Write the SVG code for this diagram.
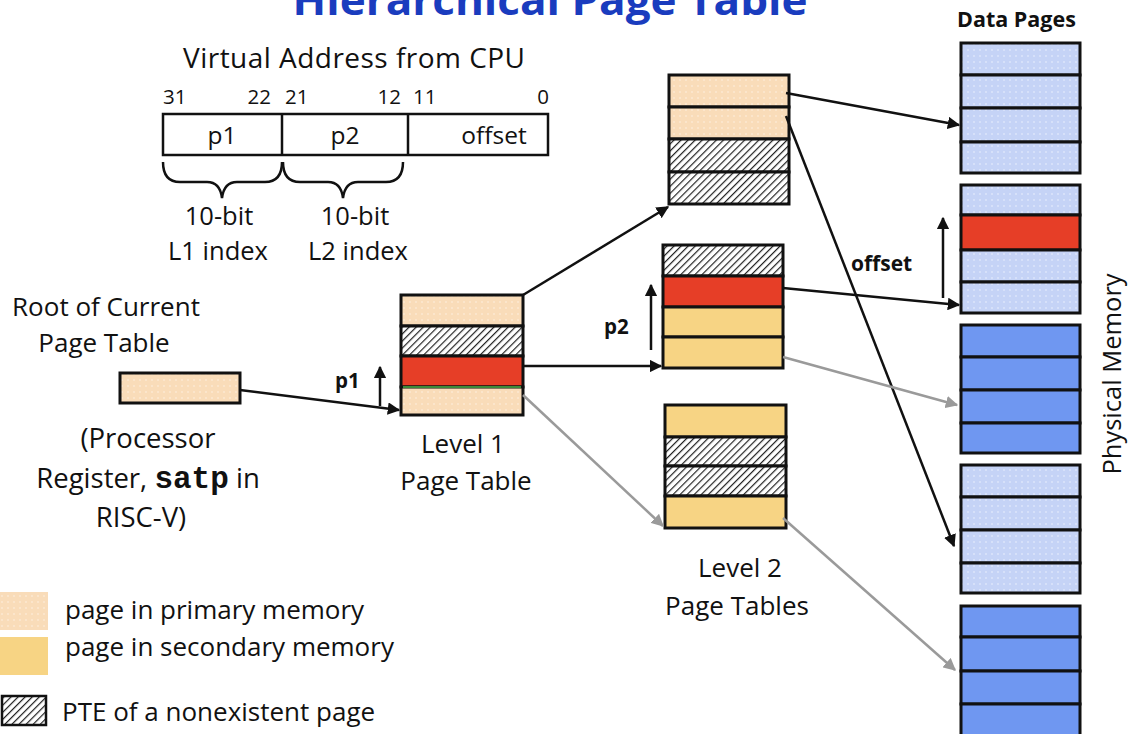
<svg xmlns="http://www.w3.org/2000/svg" width="1128" height="734" viewBox="0 0 1128 734">
<style>
text{font-family:"Open Sans","Liberation Sans",sans-serif;fill:#111}
.t25{font-size:25.5px}
.t26{font-size:26px}
.b{font-weight:bold}
.row{stroke:#111;stroke-width:3}
.arr{stroke:#111;stroke-width:2.5;fill:none;marker-end:url(#ah)}
.garr{stroke:#9a9a9a;stroke-width:2.5;fill:none;marker-end:url(#gh)}
.peach{fill:url(#dotPeach)}
.yel{fill:#F7D484}
.red{fill:#E63E27}
.hat{fill:url(#hatch)}
.lb{fill:url(#dotBlue)}
.db{fill:#6F97F1}
</style>
<defs>
<pattern id="dotPeach" width="6" height="6" patternUnits="userSpaceOnUse"><rect width="6" height="6" fill="#F9DCB9"/><circle cx="2" cy="2" r="0.7" fill="#fff" opacity="0.7"/></pattern>
<pattern id="dotBlue" width="6" height="6" patternUnits="userSpaceOnUse"><rect width="6" height="6" fill="#C5D3F6"/><circle cx="2" cy="2" r="0.7" fill="#fff" opacity="0.8"/></pattern>
<pattern id="hatch" width="5" height="5" patternUnits="userSpaceOnUse" patternTransform="rotate(45)"><rect width="5" height="5" fill="#fff"/><line x1="0" y1="0" x2="0" y2="5" stroke="#222" stroke-width="2.4"/></pattern>
<marker id="ah" viewBox="0 0 10 10" refX="9" refY="5" markerWidth="5" markerHeight="5" orient="auto" markerUnits="strokeWidth"><path d="M0,0 L10,5 L0,10 z" fill="#111"/></marker>
<marker id="gh" viewBox="0 0 10 10" refX="9" refY="5" markerWidth="5" markerHeight="5" orient="auto" markerUnits="strokeWidth"><path d="M0,0 L10,5 L0,10 z" fill="#9a9a9a"/></marker>
</defs>
<rect width="1128" height="734" fill="#fff"/>

<g id="title"><text x="550" y="15" text-anchor="middle" class="b" style="font-size:42px;fill:#1A3CBE" textLength="515" lengthAdjust="spacingAndGlyphs">Hierarchical Page Table</text></g>

<g id="virtual-address">
<text x="354" y="68" text-anchor="middle" style="font-size:28px" textLength="342">Virtual Address from CPU</text>
<text x="163" y="104" style="font-size:20.5px">31</text>
<text x="271" y="104" text-anchor="end" style="font-size:20.5px">22</text>
<text x="285" y="104" style="font-size:20.5px">21</text>
<text x="401" y="104" text-anchor="end" style="font-size:20.5px">12</text>
<text x="413" y="104" style="font-size:20.5px">11</text>
<text x="549" y="104" text-anchor="end" style="font-size:20.5px">0</text>
<rect x="163" y="114" width="385" height="41" fill="#fff" stroke="#111" stroke-width="2.5"/>
<line x1="282" y1="114" x2="282" y2="155" stroke="#111" stroke-width="2.5"/>
<line x1="408" y1="114" x2="408" y2="155" stroke="#111" stroke-width="2.5"/>
<text x="222" y="144" text-anchor="middle" style="font-size:24.5px">p1</text>
<text x="345" y="144" text-anchor="middle" style="font-size:24.5px">p2</text>
<text x="494" y="144" text-anchor="middle" style="font-size:24.5px">offset</text>
<path d="M163,162 Q163,182 180,182 L207,182 Q220,182 222,198 Q224,182 237,182 L265,182 Q282,182 282,162" fill="none" stroke="#111" stroke-width="2.5"/>
<path d="M283,162 Q283,182 300,182 L328,182 Q341,182 343,198 Q345,182 358,182 L386,182 Q403,182 403,162" fill="none" stroke="#111" stroke-width="2.5"/>
<text x="219" y="225" text-anchor="middle" class="t25">10-bit</text>
<text x="218" y="260" text-anchor="middle" class="t25">L1 index</text>
<text x="355" y="225" text-anchor="middle" class="t25">10-bit</text>
<text x="358" y="260" text-anchor="middle" class="t25">L2 index</text>
</g>

<g id="root-register">
<text x="106" y="316" text-anchor="middle" class="t26">Root of Current</text>
<text x="104" y="352" text-anchor="middle" class="t26">Page Table</text>
<rect x="120" y="373" width="120" height="30" class="row peach"/>
<text x="148" y="448" text-anchor="middle" style="font-size:27.5px">(Processor</text>
<text x="148" y="488" text-anchor="middle" style="font-size:27.5px">Register, <tspan style="font-family:'Liberation Mono',monospace;font-weight:bold;font-size:31px">satp</tspan> in</text>
<text x="141" y="527" text-anchor="middle" style="font-size:27.5px">RISC-V)</text>
</g>

<g id="level1">
<rect x="401" y="295" width="122" height="31" class="row peach"/>
<rect x="401" y="326" width="122" height="30" class="row hat"/>
<rect x="401" y="356" width="122" height="31" class="row red"/>
<rect x="401" y="387" width="122" height="28" class="row peach"/>
<line x1="403" y1="387" x2="521" y2="387" stroke="#3C8A3A" stroke-width="2"/>
<text x="463" y="453" text-anchor="middle" class="t26">Level 1</text>
<text x="466" y="490" text-anchor="middle" class="t26">Page Table</text>
<text x="335" y="388" class="b" style="font-size:20.5px">p1</text>
</g>

<g id="level2-a">
<rect x="669" y="75" width="120" height="32" class="row peach"/>
<rect x="669" y="107" width="120" height="32" class="row peach"/>
<rect x="669" y="139" width="120" height="33" class="row hat"/>
<rect x="669" y="172" width="120" height="32" class="row hat"/>
</g>
<g id="level2-b">
<rect x="663" y="245" width="120" height="31" class="row hat"/>
<rect x="663" y="276" width="120" height="31" class="row red"/>
<rect x="663" y="307" width="120" height="30" class="row yel"/>
<rect x="663" y="337" width="120" height="31" class="row yel"/>
<text x="604" y="334" class="b" style="font-size:20.5px">p2</text>
</g>
<g id="level2-c">
<rect x="665" y="405" width="121" height="32" class="row yel"/>
<rect x="665" y="437" width="121" height="29" class="row hat"/>
<rect x="665" y="466" width="121" height="30" class="row hat"/>
<rect x="665" y="496" width="121" height="32" class="row yel"/>
<text x="740" y="577" text-anchor="middle" class="t26">Level 2</text>
<text x="737" y="615" text-anchor="middle" class="t26">Page Tables</text>
</g>

<g id="data-pages">
<text x="957" y="27" class="b" style="font-size:21.5px">Data Pages</text>
</g>
<g id="page1">
<rect x="961" y="43" width="119" height="32" class="row lb"/>
<rect x="961" y="75" width="119" height="33" class="row lb"/>
<rect x="961" y="108" width="119" height="34" class="row lb"/>
<rect x="961" y="142" width="119" height="31" class="row lb"/>
</g>
<g id="page2">
<rect x="961" y="185" width="119" height="30" class="row lb"/>
<rect x="961" y="215" width="119" height="35" class="row red"/>
<rect x="961" y="250" width="119" height="32" class="row lb"/>
<rect x="961" y="282" width="119" height="31" class="row lb"/>
<text x="851" y="271" class="b" style="font-size:21px">offset</text>
</g>
<g id="page3">
<rect x="961" y="325" width="119" height="32" class="row db"/>
<rect x="961" y="357" width="119" height="33" class="row db"/>
<rect x="961" y="390" width="119" height="33" class="row db"/>
<rect x="961" y="423" width="119" height="30" class="row db"/>
</g>
<g id="page4">
<rect x="961" y="465" width="119" height="32" class="row lb"/>
<rect x="961" y="497" width="119" height="33" class="row lb"/>
<rect x="961" y="530" width="119" height="33" class="row lb"/>
<rect x="961" y="563" width="119" height="30" class="row lb"/>
</g>
<g id="page5">
<rect x="961" y="606" width="119" height="31" class="row db"/>
<rect x="961" y="637" width="119" height="34" class="row db"/>
<rect x="961" y="671" width="119" height="33" class="row db"/>
<rect x="961" y="704" width="119" height="32" class="row db"/>
</g>
<g id="physical-memory-label">
<text transform="translate(1121,374) rotate(-90)" text-anchor="middle" style="font-size:25.5px">Physical Memory</text>
</g>

<g id="connectors">
<line x1="240" y1="390" x2="399" y2="410" class="arr"/>
<line x1="523" y1="295" x2="668" y2="207" class="arr"/>
<line x1="523" y1="366" x2="661" y2="366" class="arr"/>
<line x1="523" y1="395" x2="663" y2="526" class="garr"/>
<line x1="786" y1="93" x2="959" y2="125" class="arr"/>
<line x1="786" y1="116" x2="954" y2="546" class="arr"/>
<line x1="783" y1="288" x2="959" y2="305" class="arr"/>
<line x1="783" y1="357" x2="957" y2="405" class="garr"/>
<line x1="783" y1="518" x2="955" y2="670" class="garr"/>
<line x1="380" y1="406" x2="380" y2="367" class="arr"/>
<line x1="651" y1="350" x2="651" y2="285" class="arr"/>
<line x1="943" y1="298" x2="943" y2="218" class="arr"/>
</g>

<g id="legend">
<rect x="0" y="592" width="48" height="38" class="peach"/>
<rect x="0" y="637" width="48" height="38" class="yel"/>
<rect x="2" y="696" width="44" height="29" class="hat" stroke="#111" stroke-width="2.5"/>
<text x="65" y="619" class="t26">page in primary memory</text>
<text x="65" y="656" class="t26">page in secondary memory</text>
<text x="62" y="721" class="t26">PTE of a nonexistent page</text>
</g>
</svg>
